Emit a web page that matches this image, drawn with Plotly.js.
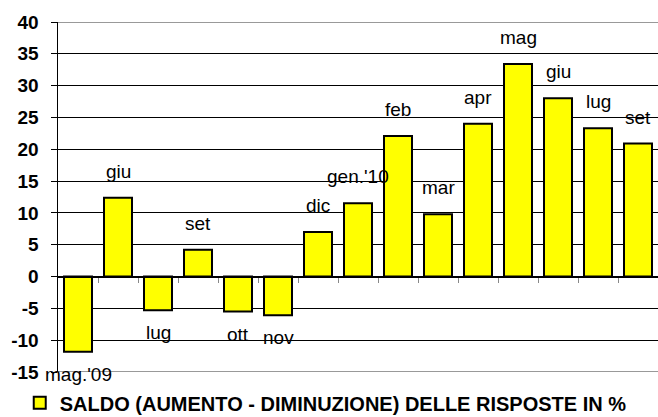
<!DOCTYPE html>
<html><head><meta charset="utf-8">
<script src="https://cdn.plot.ly/plotly-3.0.1.min.js"></script>
<style>html,body{margin:0;padding:0;background:#fff}#c{width:658px;height:417px}</style>
</head><body><div id="c"></div>
<script>
const labels = ["mag.'09","giu","lug","set","ott","nov","dic","gen.'10","feb","mar","apr","mag","giu","lug","set"];
const values = [-11.8, 12.4, -5.3, 4.2, -5.5, -6.1, 7.0, 11.5, 22.1, 9.8, 24.0, 33.4, 28.0, 23.3, 20.9];
const seriesName = "SALDO (AUMENTO - DIMINUZIONE) DELLE RISPOSTE IN %";
const yTicks = [-15,-10,-5,0,5,10,15,20,25,30,35,40];

const F = '"Liberation Sans", Arial, sans-serif';
const xs = labels.map((_, i) => i);

const annotations = values.map((v, i) => ({
  x: i, y: v, xref: 'x', yref: 'y', text: labels[i], showarrow: false,
  yanchor: v >= 0 ? 'bottom' : 'top', yshift: v >= 0 ? 14 : -10,
  font: {family: F, size: 19, color: '#000'}
}));

const trace = {
  type: 'bar', x: xs, y: values, name: '<b>' + seriesName + '</b>',
  marker: {color: '#ffff00', line: {color: '#000', width: 2}},
  width: 0.7, hoverinfo: 'none'
};

const layout = {
  width: 658, height: 417,
  margin: {l: 58, r: 0, t: 22, b: 45},
  paper_bgcolor: '#fff', plot_bgcolor: '#fff',
  font: {family: F, color: '#000'},
  showlegend: true,
  legend: {orientation: 'h', xref: 'container', yref: 'container', x: 0.03, y: 0.034, xanchor: 'left', yanchor: 'middle',
    font: {family: F, size: 20, color: '#000'}, itemwidth: 30},
  xaxis: {
    range: [-0.5, labels.length - 0.5], anchor: 'free', position: 15/55,
    showgrid: false, zeroline: false, showline: true, linecolor: '#000', linewidth: 1,
    tickmode: 'array', tickvals: xs.slice(0, -1).map(i => i + 0.5), ticks: 'outside', ticklen: 5, tickcolor: '#888', tickwidth: 1,
    showticklabels: false, fixedrange: true
  },
  yaxis: {
    range: [-15, 40], tickmode: 'array', tickvals: yTicks, ticktext: yTicks.map(t => '<b>' + t + '</b>'),
    showgrid: true, gridcolor: '#000', gridwidth: 1, zeroline: false,
    showline: true, linecolor: '#000', linewidth: 1.5,
    ticks: 'outside', ticklen: 6, tickcolor: '#000', ticklabelstandoff: 8,
    tickfont: {family: F, size: 19, color: '#000'}, fixedrange: true
  },
  shapes: [
    {type: 'line', xref: 'paper', yref: 'y', x0: 0, x1: 1, y0: 40, y1: 40, line: {color: '#999', width: 2}},
    {type: 'line', xref: 'paper', yref: 'y', x0: 0, x1: 1, y0: -15, y1: -15, line: {color: '#999', width: 2}}
  ],
  annotations: annotations
};
Plotly.newPlot('c', [trace], layout, {staticPlot: true, displayModeBar: false});
</script></body></html>
